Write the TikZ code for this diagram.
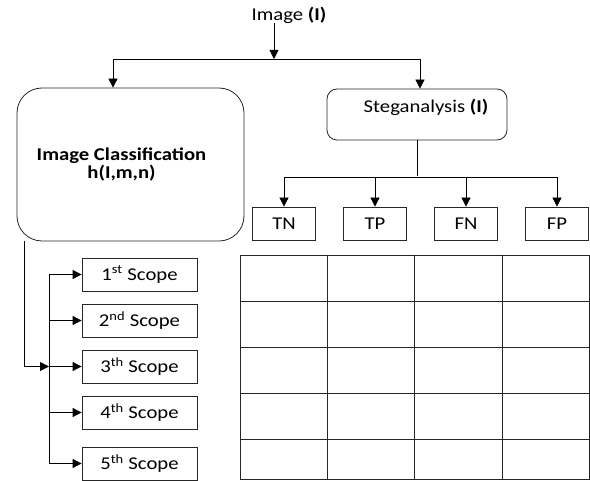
\documentclass[tikz,border=0pt]{standalone}
\usepackage{fontspec}
\setmainfont{Carlito}[FakeStretch=1.15]
\usetikzlibrary{shapes,arrows,arrows.meta}

\begin{document}
\begin{tikzpicture}[x=1pt,y=-1pt]
				\tikzstyle{common} = [draw=black!85, line width=0.8pt, text badly centered, align=center, inner sep=0.3em, font=\fontsize{18}{17.5}\selectfont]
				\tikzstyle{rounded} = [rectangle, common]
				\tikzstyle{block} = [rectangle, common, minimum width=63pt, minimum height=33pt, node distance=91pt]
				\tikzstyle{scopebox} = [rectangle, common, minimum width=115pt, minimum height=33pt, node distance=46pt]
				\tikzstyle{invisible} = [inner sep=0, draw=none, fill=none]
				\tikzstyle{line} = [draw, line width=0.8pt, -{Triangle[length=9pt,width=9pt]}]
				\tikzstyle{grid} = [draw=black!85, line width=0.8pt]
				\useasboundingbox (0,0) rectangle (590,481);
				\node[invisible, font=\fontsize{18}{18}\selectfont] (image) at (289,15) {Image \textbf{(I)}};
				\node[rounded, rounded corners=25pt, minimum width=227pt, minimum height=153pt] (classif) at (130.5,164.5) {\bfseries Image Classification\hspace*{18pt}\\\bfseries h(I,m,n)\hspace*{18pt}};
				\node[rounded, rounded corners=10pt, minimum width=180pt, minimum height=51pt] (stego) at (417,114.5) {\hspace*{18pt}Steganalysis \textbf{(I)}\\[-6pt]\strut};
				\node[invisible, node distance=62.5pt, below of=stego] (fork) {};

				\node[block] (tn) at (284,223.5) {TN};
				\node[block, right of=tn] (tp) {TP};
				\node[block, right of=tp] (fn) {FN};
				\node[block, right of=fn] (fp) {FP};

				\node[scopebox] (s1) at (139.5,274.5) {1\textsuperscript{st} Scope};
				\node[scopebox, below of=s1] (s2) {2\textsuperscript{nd} Scope};
				\node[scopebox, below of=s2] (s3) {3\textsuperscript{th} Scope};
				\node[scopebox, below of=s3] (s4) {4\textsuperscript{th} Scope};
				\node[scopebox, node distance=51pt, below of=s4] (s5) {5\textsuperscript{th} Scope};

				\coordinate (split) at (274,59);
				\coordinate (lft) at (113,59);
				\coordinate (rgt) at (420,59);
				\coordinate (drop) at ([xshift=8pt]classif.south west);
				\coordinate[node distance=90.5pt, left of=s3] (trunk);

				\draw[line] (image.south -| split) -- (split);
				\draw (lft) -- (rgt);
				\draw[line] (lft) -- (lft |- classif.north);
				\draw[line] (rgt) -- (rgt |- stego.north);
				\draw (stego) -- (fork);
				\draw (fork -| tn) -- (fork -| fp);
				\foreach \b in {tn,tp,fn,fp}
					\draw[line] (fork -| \b) -- (\b);
				\draw[line] (drop) |- (trunk);
				\draw (trunk |- s1) -- (trunk |- s5);
				\foreach \s in {s1,s2,s3,s4,s5}
					\draw[line] (trunk |- \s) -- (\s);

				% results table
				\draw[grid] (240,255) rectangle (589,479);
				\foreach \x in {327,414,502}
					\draw[grid] (\x,255) -- (\x,479);
				\foreach \y in {301,347,393,439}
					\draw[grid] (240,\y) -- (589,\y);
			\end{tikzpicture}
\end{document}
